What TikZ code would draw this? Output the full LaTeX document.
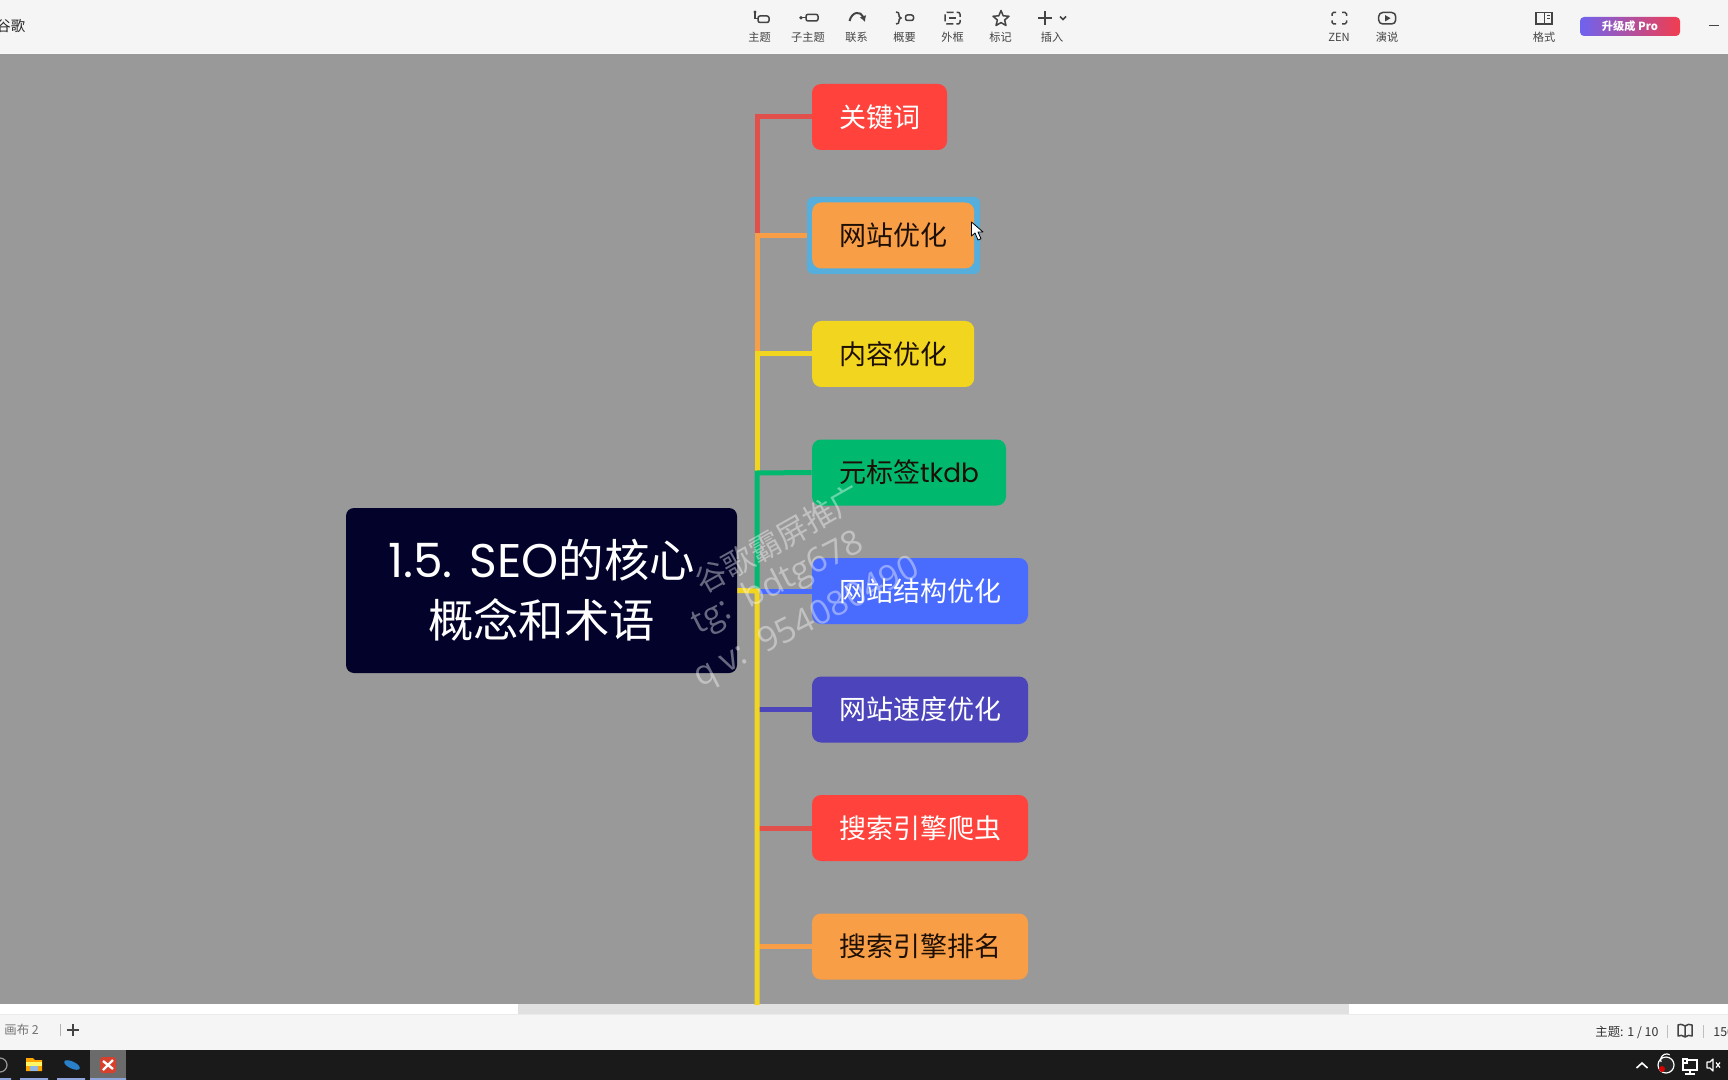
\documentclass[tikz,border=0pt]{standalone}
\usepackage{fontspec}
\setmainfont{Noto Sans CJK SC}
\newfontfamily\lat{Poppins}
\newfontfamily\wlat{Open Sans}
\usetikzlibrary{arrows.meta}
\definecolor{cvbg}{HTML}{999999}
\definecolor{barbg}{HTML}{F5F5F5}
\definecolor{taskbg}{HTML}{1A1A1A}
\definecolor{ink}{HTML}{444444}
\definecolor{cred}{HTML}{FF423B}
\definecolor{lred}{HTML}{E2504B}
\definecolor{corange}{HTML}{F79E47}
\definecolor{cyellow}{HTML}{F1D51F}
\definecolor{cgreen}{HTML}{00B96F}
\definecolor{cblue}{HTML}{4A6CFE}
\definecolor{cpurple}{HTML}{4C44BB}
\definecolor{cnavy}{HTML}{02022A}
\definecolor{dtext}{HTML}{1E0F05}
\definecolor{selblue}{HTML}{56AEDC}
\definecolor{proa}{HTML}{6E63F0}
\definecolor{prob}{HTML}{F23D4F}
\definecolor{edgeblue}{HTML}{2A7FC9}
\definecolor{appred}{HTML}{D8402E}
\tikzset{
  topic/.style={rectangle,rounded corners=4.5pt,inner sep=0pt,minimum height=33pt,font=\fontsize{13.5}{16}\selectfont},
  branch/.style={line width=2.5pt,line cap=butt,line join=miter},
  tblabel/.style={inner sep=0pt,text=ink,font=\fontsize{5.6}{7}\selectfont},
  icon/.style={draw=ink,line width=0.75pt,rounded corners=1pt},
  iconf/.style={draw=ink,line width=0.75pt},
  wm/.style={anchor=west,inner sep=0pt,text=white,text opacity=0.4},
  stat/.style={inner sep=0pt,text=ink,font=\fontsize{6.2}{8}\selectfont},
}
\begin{document}
\begin{tikzpicture}[x=0.5pt,y=-0.5pt]
\useasboundingbox (0,0) rectangle (1728,1080);
\clip (0,0) rectangle (1728,1080);
% backgrounds
\fill[cvbg] (0,54) rectangle (1728,1004);
\fill[barbg] (0,0) rectangle (1728,53);
\fill[white!92!cvbg] (0,53) rectangle (1728,54);
\fill[white] (0,1004) rectangle (1728,1014);
\fill[black!12] (518,1004) rectangle (1349,1014);
\fill[barbg] (0,1014) rectangle (1728,1050);
\fill[black!8] (0,1014) rectangle (1728,1014.6);
\fill[taskbg] (0,1050) rectangle (1728,1080);
% coordinates on the trunk
\coordinate (j1) at (757,117);
\coordinate (j2) at (757,235.5);
\coordinate (j3) at (757,354);
\coordinate (j4) at (757,473);
\coordinate (hub) at (757,591);
\coordinate (j6) at (757,709.5);
\coordinate (j7) at (757,828);
\coordinate (j8) at (757,946.5);
\coordinate (jend) at (757,1005);
% nodes
\node[topic,fill=cnavy,text=white,minimum width=195.5pt,minimum height=82.5pt,rounded corners=4pt,align=center,font=\fontsize{22.7}{30}\selectfont] (root) at (541.5,590.5) {{\lat\fontsize{23.6}{30}\selectfont 1.5. SEO}的核心\\概念和术语};
\node[topic,fill=cred,text=white,minimum width=67.5pt] (n1) at (879.5,117) {关键词};
\node[topic,fill=selblue,minimum width=86.5pt,minimum height=38.5pt,rounded corners=3pt] (sel) at (893.5,235.5) {};
\node[topic,fill=corange,text=dtext,minimum width=81pt] (n2) at (893.2,235.5) {网站优化};
\node[topic,fill=cyellow,text=dtext,minimum width=81pt] (n3) at (893.2,354) {内容优化};
\node[topic,fill=cgreen,text=dtext,minimum width=97pt] (n4) at (909,472.5) {元标签{\lat\fontsize{13.2}{16}\selectfont tkdb}};
\node[topic,fill=cblue,text=white,minimum width=108pt] (n5) at (920,591) {网站结构优化};
\node[topic,fill=cpurple,text=white,minimum width=108pt] (n6) at (920,709.5) {网站速度优化};
\node[topic,fill=cred,text=white,minimum width=108pt] (n7) at (920,828) {搜索引擎爬虫};
\node[topic,fill=corange,text=dtext,minimum width=108pt] (n8) at (920,946.5) {搜索引擎排名};
% connectors
\draw[branch,lred] (n1.west) -- (j1) -- (j2);
\draw[branch,corange] (sel.west) -- (j2) -- (j3);
\draw[branch,cyellow] (n3.west) -- (j3) -- (j4);
\draw[branch,cgreen] (n4.west) -- (j4) -- (hub);
\draw[branch,cblue] (hub) -- (n5.west);
\draw[branch,cpurple] (j6) -- (n6.west);
\draw[branch,lred] (j7) -- (n7.west);
\draw[branch,corange] (j8) -- (n8.west);
\draw[branch,cyellow] (root.east) -- (hub) -- (jend);
% cursor
\filldraw[fill=white,draw=black,line width=0.4pt,line join=round] (971.5,222) -- (971.5,236) -- (975,233) -- (978,240) -- (981,238.8) -- (978,232) -- (983,232) -- cycle;
% top-left title
\node[inner sep=0pt,anchor=west,text=black!85,font=\fontsize{7.2}{9}\selectfont] (apptitle) at (-4,26) {谷歌};
% toolbar labels
\node[tblabel] (t1) at (759.5,37) {主题};
\node[tblabel] (t2) at (808,37) {子主题};
\node[tblabel] (t3) at (856.5,37) {联系};
\node[tblabel] (t4) at (904.5,37) {概要};
\node[tblabel] (t5) at (952.5,37) {外框};
\node[tblabel] (t6) at (1000.5,37) {标记};
\node[tblabel] (t7) at (1052,37) {插入};
\node[tblabel] (t8) at (1339,37) {ZEN};
\node[tblabel] (t9) at (1387,37) {演说};
\node[tblabel] (t10) at (1544,37) {格式};
% toolbar icons
\draw[icon] (758,16) rectangle (769,22.5);
\draw[iconf] (755,13) -- (755,18.5) -- (758,18.5);
\fill[ink] (755,12) circle (1.7);
\draw[icon] (806,14.3) rectangle (818,21);
\draw[iconf] (802,17.7) -- (806,17.7);
\fill[ink] (801,17.7) circle (1.9);
\draw[iconf,line width=1pt,-{Latex[length=3pt,width=3.5pt]}] (849.5,21) .. controls (852,11) and (861,11) .. (865,22);
\draw[iconf] (896,12) .. controls (898.5,12) and (899,13) .. (899,15) -- (899,16.5) -- (901,18) -- (899,19.5) -- (899,21) .. controls (899,23) and (898.5,24) .. (896,24);
\draw[icon] (905.5,15) rectangle (913.5,20.5);
\draw[icon,dash pattern=on 3.5pt off 1.5pt] (945,12.3) rectangle (960,24);
\draw[iconf] (949,18) -- (956,18);
\draw[iconf,line join=round] (1001,10.5) -- (1003.2,15.8) -- (1009,16.3) -- (1004.6,20) -- (1006,25.5) -- (1001,22.6) -- (996,25.5) -- (997.4,20) -- (993,16.3) -- (998.8,15.8) -- cycle;
\draw[iconf,line width=1pt] (1038,18.3) -- (1052,18.3) (1045,11.3) -- (1045,25.3);
\draw[iconf] (1060,16.5) -- (1063,19.5) -- (1066,16.5);
\draw[iconf,rounded corners=0.8pt] (1336,12.3) -- (1332,12.3) -- (1332,16) (1342,12.3) -- (1346.5,12.3) -- (1346.5,16) (1332,20.5) -- (1332,24) -- (1336,24) (1346.5,20.5) -- (1346.5,24) -- (1342,24);
\draw[icon,rounded corners=2pt] (1378.7,12.5) rectangle (1395.7,24);
\fill[ink] (1385,15) -- (1385,21.5) -- (1390.5,18.2) -- cycle;
\draw[iconf] (1536,12.7) rectangle (1552,24);
\draw[iconf] (1544.5,12.7) -- (1544.5,24);
\draw[iconf,line width=0.5pt] (1547,16) -- (1550,16) (1547,19) -- (1550,19);
% upgrade button
\node[rectangle,rounded corners=2pt,inner sep=0pt,minimum width=50pt,minimum height=9.5pt,left color=proa,right color=prob,text=white,font=\bfseries\fontsize{5.6}{7}\selectfont] (pro) at (1630,26.5) {升级成 Pro};
\draw[draw=ink,line width=0.5pt] (1709,26) -- (1719,26);
% status bar
\node[stat,anchor=west,text=black!55] (canvas) at (4,1030) {画布 2};
\draw[black!30,line width=0.5pt] (60.7,1024) -- (60.7,1036);
\draw[ink,line width=1pt] (67,1030) -- (79,1030) (73,1024) -- (73,1036);
\node[stat,anchor=west,text=black!80] (count) at (1595,1032) {主题: 1 / 10};
\draw[black!25,line width=0.5pt] (1667,1025) -- (1667,1038);
\draw[ink,line width=0.75pt,line join=round] (1685,1026) .. controls (1682,1024) and (1679,1024) .. (1678,1025) -- (1678,1036) .. controls (1680,1035) and (1683,1035) .. (1685,1037) .. controls (1687,1035) and (1690,1035) .. (1692,1036) -- (1692,1025) .. controls (1690,1024) and (1687,1024) .. (1685,1026) -- (1685,1037);
\draw[black!25,line width=0.5pt] (1703,1025) -- (1703,1038);
\node[stat,anchor=west,text=black!80] (zoomv) at (1713,1032) {150};
% taskbar
\draw[white!60!black,line width=0.6pt] (0,1065) circle (7);
\fill[black!58] (90,1050) rectangle (126,1080);
\fill[cyan!40!blue!45!white] (0,1078) rectangle (11,1080) (20,1078) rectangle (48,1080) (57,1078) rectangle (85,1080) (90,1078) rectangle (126,1080);
\fill[orange!70!yellow] (26,1058) -- (33,1058) -- (35,1060) -- (42,1060) -- (42,1071) -- (26,1071) -- cycle;
\fill[yellow!60!white] (26,1062) rectangle (42,1066);
\fill[cyan!60!blue!45!white] (30,1066) rectangle (38,1071);
\fill[edgeblue,rotate around={-25:(72,1065)}] (72,1065) ellipse (8.5 and 3.5);
\fill[appred,rounded corners=1.5pt] (100,1057) rectangle (116,1073);
\draw[white,line width=1.2pt] (103,1061) -- (113,1069) (113,1060) -- (103,1070);
\draw[white,line width=0.8pt] (1636.5,1068) -- (1642,1063) -- (1647.5,1068);
\draw[white,line width=0.6pt,fill=black!85] (1666,1065) circle (8);
\draw[white,line width=0.6pt] (1661,1062) arc (160:300:6);
\fill[red!85!black] (1662,1069) circle (3);
\draw[white,line width=0.6pt] (1683,1060) rectangle (1697,1070) (1690,1070) -- (1690,1074) (1685,1074) -- (1695,1074);
\fill[taskbg] (1682,1058) rectangle (1688,1064);
\draw[white,line width=0.6pt] (1683,1059) rectangle (1687,1063);
\draw[white,line width=0.6pt,line join=round] (1707,1062) -- (1710,1062) -- (1713,1059) -- (1713,1071) -- (1710,1068) -- (1707,1068) -- cycle;
\draw[white,line width=0.6pt] (1716,1062.5) -- (1720,1067.5) (1720,1062.5) -- (1716,1067.5);
% watermark
\node[wm,rotate=29.5,font=\fontsize{15.5}{18}\selectfont] (wm1) at (697,585) {谷歌霸屏推广};
\node[wm,rotate=27,font=\wlat\fontsize{17}{20}\selectfont] (wm2) at (694,627) {tg:\ \ bdtg678};
\node[wm,rotate=27,font=\wlat\fontsize{17}{20}\selectfont] (wm3) at (696,680) {q v:\ \ 954080490};
\end{tikzpicture}
\end{document}
